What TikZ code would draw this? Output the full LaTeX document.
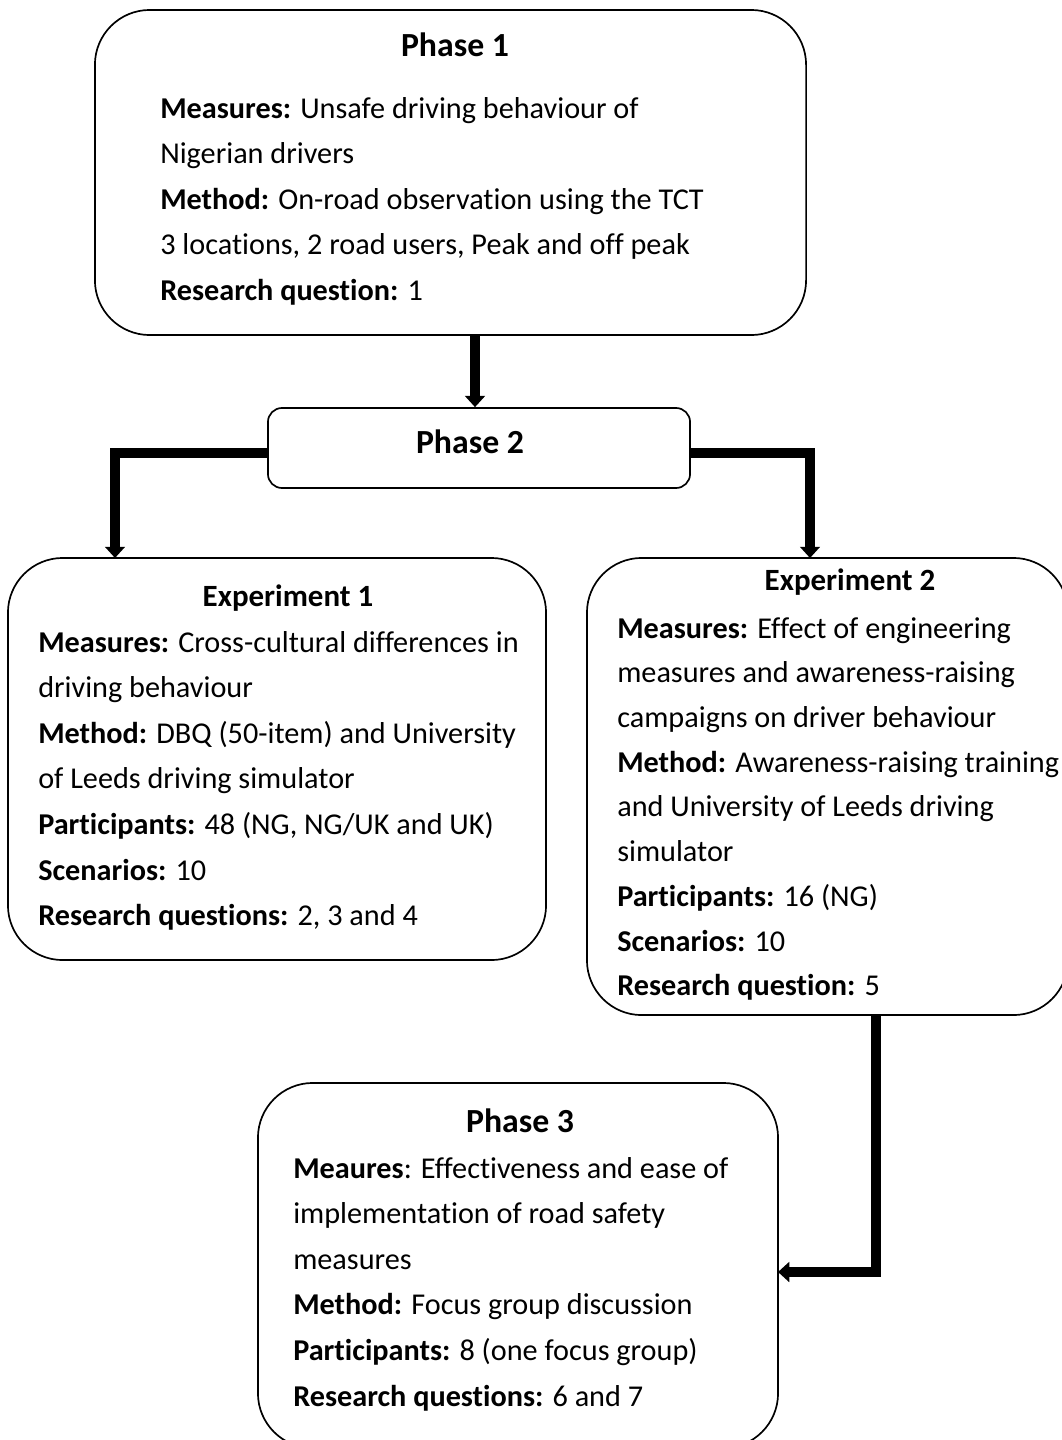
\documentclass[tikz,border=0pt]{standalone}
\usepackage{fontspec}
\setmainfont{Carlito}[Ligatures=NoCommon]
\usetikzlibrary{arrows.meta,positioning}

\begin{document}
\begin{tikzpicture}[x=0.025cm,y=-0.025cm,
    stage/.style={draw,line width=1.2pt,rounded corners=39pt,inner sep=0pt},
    head/.style={font=\fontsize{24}{28}\selectfont\bfseries},
    subhead/.style={font=\fontsize{22}{26}\selectfont\bfseries},
    body/.style={font=\fontsize{21.5}{32.4}\selectfont,align=left,anchor=north west,inner sep=0pt},
    flow/.style={line width=6.5pt,-{Triangle[width=14pt,length=8pt]}}]
    \useasboundingbox (0,0) rectangle (1061,1440);
    % boxes
    \node[stage,minimum width=17.775cm,minimum height=8.125cm] (p1) at (450.5,172.5) {};
    \node[stage,rounded corners=10pt,minimum width=10.55cm,minimum height=2cm] (p2) at (479,448) {};
    \node[stage,minimum width=13.45cm,minimum height=10.05cm] (e1) at (277,759) {};
    \node[stage,minimum width=12.025cm,minimum height=11.425cm] (e2) at (827.5,786.5) {};
    \node[stage,minimum width=13cm,minimum height=9.125cm] (p3) at (518,1265.5) {};
    % texts
    \node[head] (t1) at (455,45) {Phase 1};
    \node[body] (b1) at (160,97) {\textbf{Measures:} Unsafe driving behaviour of\\
      Nigerian drivers\\
      \textbf{Method:} On-road observation using the TCT\\
      3 locations, 2 road users, Peak and off peak\\
      \textbf{Research question:} 1};
    \node[head] (t2) at (470,442) {Phase 2};
    \node[subhead] (t3) at (288,598) {Experiment 1};
    \node[body] (b3) at (38,631) {\textbf{Measures:} Cross-cultural differences in\\
      driving behaviour\\
      \textbf{Method:} DBQ (50-item) and University\\
      of Leeds driving simulator\\
      \textbf{Participants:} 48 (NG, NG/UK and UK)\\
      \textbf{Scenarios:} 10\\
      \textbf{Research questions:} 2, 3 and 4};
    \node[subhead] (t4) at (850,582) {Experiment 2};
    \node[body,font=\fontsize{21.5}{31.8}\selectfont] (b4) at (617,617) {\textbf{Measures:} Effect of engineering\\
      measures and awareness-raising\\
      campaigns on driver behaviour\\
      \textbf{Method:} Awareness-raising training\\
      and University of Leeds driving\\
      simulator\\
      \textbf{Participants:} 16 (NG)\\
      \textbf{Scenarios:} 10\\
      \textbf{Research question:} 5};
    \node[head] (t5) at (520,1121) {Phase 3};
    \node[body] (b5) at (293,1157) {\textbf{Meaures}: Effectiveness and ease of\\
      implementation of road safety\\
      measures\\
      \textbf{Method:} Focus group discussion\\
      \textbf{Participants:} 8 (one focus group)\\
      \textbf{Research questions:} 6 and 7};
    % connectors
    \coordinate (e1in) at (115,558);
    \coordinate (e2in) at (810,558);
    \coordinate (e2out) at (876,1015);
    \coordinate (p3in) at (778,1272);
    \draw[flow] ([xshift=0.6125cm]p1.south) -- ([xshift=0.6125cm]p1.south |- p2.north);
    \draw[flow] ([yshift=-0.125cm]p2.west) -| (e1in);
    \draw[flow] ([yshift=-0.125cm]p2.east) -| (e2in);
    \draw[flow] (e2out) |- (p3in);
\end{tikzpicture}
\end{document}
